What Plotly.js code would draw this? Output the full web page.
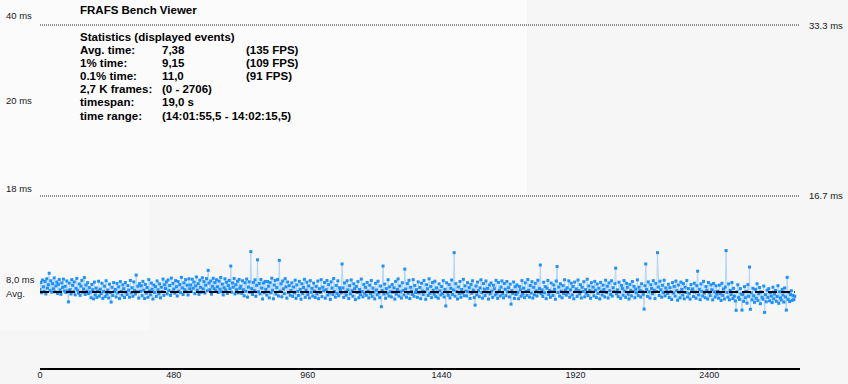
<!DOCTYPE html>
<html>
<head>
<meta charset="utf-8">
<script src="https://cdn.plot.ly/plotly-3.0.1.min.js"></script>
<style>html,body{margin:0;padding:0;background:#f6f6f6;}#chart{width:848px;height:384px;}</style>
</head>
<body>
<div id="chart"></div>
<script>
// ---------- data ----------
const frameStep = 3; // one sample every 3 frames (frames 0..2706)
const frameTimes = [
7.62,8.31,7.30,8.54,7.88,7.44,8.40,7.19,8.66,7.75,8.08,9.20,7.51,8.47,7.36,8.19,7.69,8.75,7.40,7.97,8.35,7.24,8.12,8.60,7.58,7.15,8.27,7.82,8.63,7.47,
7.93,7.33,8.45,7.49,6.42,8.24,7.61,7.18,8.58,8.02,7.39,8.36,7.10,7.73,8.70,7.55,7.27,8.16,7.05,7.95,8.50,7.36,7.67,8.78,7.14,8.06,7.46,8.29,7.22,7.80,
7.38,6.82,8.11,7.60,6.71,8.34,7.09,7.77,6.85,7.48,8.42,6.98,7.66,7.23,8.22,6.76,7.43,7.95,6.93,8.47,7.16,7.57,6.80,8.14,7.33,6.40,7.84,7.04,8.29,7.41,
7.63,6.90,8.21,7.28,7.88,6.74,8.39,7.45,7.07,8.08,7.70,6.84,8.30,7.37,7.13,8.01,7.56,6.87,8.50,7.30,7.79,6.96,8.36,7.52,7.18,9.02,7.40,7.94,6.79,8.19,
7.44,7.99,7.02,8.41,7.55,6.75,8.12,7.26,7.82,6.86,8.58,7.49,7.10,8.25,7.64,6.70,8.06,7.34,7.90,6.95,8.45,7.59,7.19,8.17,6.81,7.85,7.41,8.63,7.05,8.09,
7.71,8.36,7.20,8.55,7.52,8.01,7.05,8.73,7.38,8.22,7.66,7.26,8.49,7.90,6.99,8.40,7.46,8.10,7.31,8.80,7.78,7.13,8.27,7.60,8.58,7.40,8.05,7.09,8.66,7.69,
8.06,7.42,8.62,7.74,8.35,7.22,7.97,8.84,7.56,8.19,7.15,8.52,7.83,7.37,8.76,7.67,8.39,7.28,8.04,8.68,7.50,9.48,8.24,7.61,8.45,7.17,7.93,8.71,7.70,8.30,
7.54,8.57,7.89,7.33,8.44,7.65,8.79,7.40,8.15,7.10,7.79,8.66,7.58,8.33,7.24,8.00,8.51,7.70,9.90,7.36,8.26,7.84,8.69,7.19,8.09,7.60,8.42,7.29,8.60,7.73,
7.95,7.25,8.47,7.60,7.00,8.28,7.44,8.64,6.88,7.85,8.37,7.35,11.30,7.71,7.14,8.31,7.52,8.56,6.96,8.02,10.50,7.40,8.21,7.20,8.60,7.76,6.70,8.25,7.31,8.41,
7.63,7.08,8.40,7.94,6.81,8.30,7.29,8.72,7.55,6.72,8.05,8.50,7.17,7.80,8.59,6.99,10.45,7.46,8.18,6.91,8.44,7.68,7.22,8.67,7.88,6.78,8.35,7.34,8.00,7.07,
7.52,8.27,6.95,7.87,7.28,8.52,6.76,8.07,7.43,7.04,8.41,7.63,6.68,8.18,7.21,7.82,8.61,6.86,7.56,8.33,7.12,7.97,6.80,8.48,7.35,7.74,6.99,8.24,7.47,6.84,
7.93,7.18,8.44,6.73,7.70,7.34,8.58,6.93,7.85,7.49,8.30,6.78,7.60,8.50,7.08,8.10,7.30,6.66,8.37,7.76,7.14,8.69,7.42,6.88,8.02,7.25,8.46,7.01,7.80,7.53,
7.27,10.10,7.77,6.85,8.26,7.38,7.07,8.47,7.58,6.75,8.00,7.20,8.55,7.51,6.96,8.18,7.69,6.64,7.92,7.33,8.39,6.82,7.63,7.11,8.63,7.42,6.91,8.12,7.26,7.83,
7.06,8.31,7.47,6.80,8.04,7.24,8.49,6.95,7.76,7.37,6.71,8.22,7.57,7.10,8.42,7.31,6.83,7.96,5.95,7.53,9.90,7.18,8.15,6.77,7.71,7.27,8.57,6.99,7.88,7.40,
6.90,8.11,7.36,7.79,6.69,8.41,7.17,7.62,8.65,6.98,7.97,7.39,6.79,8.28,7.52,7.09,9.60,7.67,6.87,8.20,7.25,8.51,6.74,7.84,7.45,7.14,8.58,6.96,8.01,7.33,
7.61,6.86,8.36,7.29,7.82,6.73,8.23,7.48,7.12,8.50,7.40,6.67,8.09,7.69,7.04,8.66,7.26,7.92,6.83,8.30,7.55,7.16,8.43,6.92,7.78,7.37,6.77,8.17,7.50,7.09,
7.91,7.23,8.48,6.89,7.64,6.02,8.27,7.35,7.06,8.10,6.80,7.74,8.54,7.15,7.58,11.20,6.97,8.19,7.42,6.70,7.87,7.21,8.40,6.86,7.62,7.28,8.61,7.02,7.98,7.47,
7.00,8.29,7.39,7.81,6.75,8.12,7.25,8.47,7.57,6.84,6.10,7.96,7.11,8.34,7.50,6.92,7.77,8.56,7.31,6.78,8.20,7.65,7.03,8.45,7.36,7.73,6.69,8.06,7.19,8.26,
7.46,6.85,8.03,7.70,7.08,8.51,7.26,6.76,8.31,7.54,6.99,7.85,8.46,7.20,6.81,8.21,7.64,7.02,8.40,7.38,7.80,6.89,8.14,6.20,7.51,7.22,8.35,6.75,7.89,7.13,
8.07,7.34,6.72,7.92,7.60,6.97,8.48,7.17,7.76,6.83,8.27,7.44,7.05,8.59,7.55,6.88,8.01,7.27,8.38,6.79,7.84,7.10,8.22,7.49,6.99,8.52,7.36,7.71,10.00,7.21,
7.58,6.94,8.32,7.30,7.90,6.73,7.75,8.50,7.13,7.53,6.86,8.25,7.41,7.04,8.06,7.63,6.68,8.44,9.85,7.33,7.86,6.98,8.18,7.46,6.81,8.00,7.22,8.57,7.56,7.07,
7.79,7.29,8.46,6.87,7.59,8.23,7.09,7.91,6.72,8.34,7.40,7.68,6.95,8.54,7.51,7.19,8.09,6.80,7.84,7.43,8.38,6.91,7.61,7.26,8.62,7.03,7.97,7.54,6.77,8.28,
7.39,7.86,7.00,8.41,7.55,6.84,8.15,7.24,7.75,6.71,8.31,7.44,7.08,8.05,7.62,6.90,8.52,7.32,7.94,6.79,8.26,7.50,7.13,8.47,6.98,7.80,7.41,8.19,9.70,7.20,
7.59,6.93,8.33,7.36,6.76,8.02,7.72,7.06,8.49,7.47,6.86,8.22,7.83,7.16,6.70,8.12,7.53,7.00,8.40,7.42,7.93,6.82,7.66,7.30,8.56,7.03,7.85,7.52,6.89,8.18,
7.44,7.15,5.72,7.99,10.10,7.63,6.96,8.36,7.40,6.79,8.09,7.72,7.20,8.48,7.55,6.74,8.21,7.42,11.20,7.86,7.04,8.43,7.59,6.87,8.04,7.31,8.53,7.00,7.78,7.46,
7.22,8.13,6.84,7.80,7.41,6.65,8.29,7.28,7.92,6.98,8.44,7.50,6.58,8.06,7.35,6.81,8.34,7.62,7.08,8.19,6.72,7.85,7.32,8.49,6.90,7.71,7.24,6.69,8.10,7.48,
7.68,6.94,8.23,7.37,6.77,7.99,9.40,7.09,7.64,6.63,8.17,7.44,6.99,8.41,7.27,6.82,7.91,7.55,6.70,8.30,7.33,7.02,8.08,7.60,6.61,8.21,7.39,6.89,7.98,7.16,
7.46,6.78,8.04,7.22,6.55,8.22,7.05,7.67,6.70,7.86,11.40,7.34,6.88,8.16,6.62,7.54,7.12,8.30,6.75,7.74,6.98,6.51,5.60,7.40,8.08,6.84,6.66,7.71,7.18,5.62,
7.14,6.47,7.90,6.82,7.45,6.30,8.09,6.96,9.80,5.70,7.30,6.62,7.74,7.01,6.38,7.63,6.76,8.18,6.55,7.22,7.81,6.24,7.39,6.87,6.68,7.95,5.40,7.13,6.43,7.56,
6.86,7.70,6.52,7.31,6.99,6.35,7.85,6.72,7.19,7.53,6.48,6.94,7.99,6.28,7.40,6.80,6.60,7.64,7.08,6.40,7.77,6.90,5.62,8.80,6.66,7.35,6.45,7.13,7.50,6.57,
7.05,6.64,6.96
];
const frameRange = [0, 2706];
const avgTime = 7.38;
const refLines = [33.3, 16.7];
const refLabels = ["33.3 ms", "16.7 ms"];
const leftLabels = ["40 ms", "20 ms", "18 ms", "8,0 ms", "Avg."];
const xTickVals = [0, 480, 960, 1440, 1920, 2400];
const xTickText = ["0", "480", "960", "1440", "1920", "2400"];
const chartTitle = "FRAFS Bench Viewer";
const statHeader = "Statistics (displayed events)";
const statLabels = ["Avg. time:", "1% time:", "0.1% time:", "2,7 K frames:", "timespan:", "time range:"];
const statValues = ["7,38", "9,15", "11,0", "(0 - 2706)", "19,0 s", "(14:01:55,5 - 14:02:15,5)"];
const statFps = ["(135 FPS)", "(109 FPS)", "(91 FPS)", "", "", ""];

// ---------- layout helpers (pixel -> paper) ----------
const W = 848, H = 384, PL = 40, PR = 800, PT = 0, PB = 368;
const px = v => (v - PL) / (PR - PL);
const py = v => (PB - v) / (PB - PT);
const xMax = 2725;

const frames = frameTimes.map((_, i) => i * frameStep);

const traces = [];
refLines.forEach(v => {
  traces.push({
    x: [0, xMax], y: [v, v], mode: 'lines', hoverinfo: 'skip',
    line: {color: '#222', width: 1, dash: '1px,1px'}, showlegend: false
  });
});
traces.push({
  x: frames, y: frameTimes, mode: 'lines+markers', type: 'scatter',
  line: {color: '#b3d6f7', width: 1},
  marker: {color: '#1e90ff', size: 3, symbol: 'square', line: {width: 0}},
  showlegend: false, hoverinfo: 'x+y'
});
traces.push({
  x: frameRange, y: [avgTime, avgTime], mode: 'lines', hoverinfo: 'skip',
  line: {color: '#000', width: 2, dash: '9px,4px'}, showlegend: false
});

const FONT = 'Liberation Sans, Arial, sans-serif';
const annotations = [];
const boldFont = {family: FONT, size: 11.5, color: '#000'};
function addText(text, x, y, font) {
  annotations.push({text: '<b>' + text + '</b>', xref: 'paper', yref: 'paper', x: px(x), y: py(y),
    xanchor: 'left', yanchor: 'middle', showarrow: false, font: font || boldFont});
}
addText(chartTitle, 78, 10);
addText(statHeader, 78, 37);
const rowY = [50, 63, 76, 89, 102, 116];
statLabels.forEach((t, i) => {
  addText(t, 78, rowY[i]);
  addText(statValues[i], 160, rowY[i]);
  if (statFps[i]) addText(statFps[i], 244, rowY[i]);
});
const smallFont = {family: FONT, size: 9.5, color: '#1a1a1a'};
const leftY = [15, 100, 188, 279, 293];
leftLabels.forEach((t, i) => {
  annotations.push({text: t, xref: 'paper', yref: 'paper', x: px(4), y: py(leftY[i]),
    xanchor: 'left', yanchor: 'middle', showarrow: false, font: smallFont});
});
refLines.forEach((v, i) => {
  annotations.push({text: refLabels[i], xref: 'paper', yref: 'y', x: px(807), y: v,
    xanchor: 'left', yanchor: 'middle', showarrow: false, font: smallFont});
});

const layout = {
  width: W, height: H,
  margin: {l: PL, r: W - PR, t: PT, b: H - PB, pad: 0},
  paper_bgcolor: '#f6f6f6', plot_bgcolor: 'rgba(0,0,0,0)',
  showlegend: false,
  xaxis: {range: [0, xMax], tickvals: xTickVals, ticktext: xTickText, showgrid: false, zeroline: false,
    showline: true, linecolor: '#000', linewidth: 1.5, ticks: '', automargin: false, ticklabelstandoff: -2,
    tickfont: {family: FONT, size: 9, color: '#1a1a2a'}, fixedrange: true},
  yaxis: {range: [0, (PB - PT) / 10.3], showgrid: false, zeroline: false, showline: false,
    showticklabels: false, ticks: '', automargin: false, fixedrange: true},
  shapes: [
    {type: 'rect', xref: 'paper', yref: 'paper', x0: px(0), x1: px(527), y0: py(197), y1: py(0),
      fillcolor: '#fbfbfc', line: {width: 0}, layer: 'below'},
    {type: 'rect', xref: 'paper', yref: 'paper', x0: px(0), x1: px(149), y0: py(330), y1: py(197),
      fillcolor: '#f9f9fa', line: {width: 0}, layer: 'below'}
  ],
  annotations: annotations
};

Plotly.newPlot('chart', traces, layout, {displayModeBar: false, staticPlot: true});
</script>
</body>
</html>
